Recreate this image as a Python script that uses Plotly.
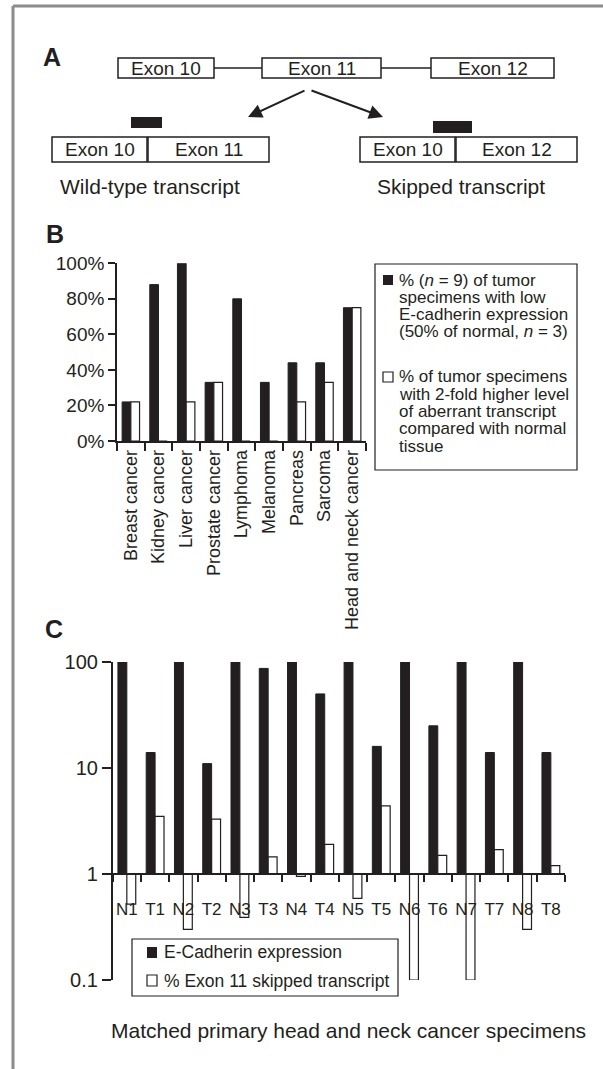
import plotly.graph_objects as go

W, H = 603, 1069
FONT = "Liberation Sans, Arial, Helvetica, sans-serif"
BLACK = "#231f20"


def px(x):
    return x / W


def py(y):
    return 1 - y / H


# ---------------- data ----------------
cancer_types = ["Breast cancer", "Kidney cancer", "Liver cancer", "Prostate cancer",
                "Lymphoma", "Melanoma", "Pancreas", "Sarcoma", "Head and neck cancer"]
low_ecad_pct = [22, 88, 100, 33, 80, 33, 44, 44, 75]
aberrant_pct = [22, 0, 22, 33, 0, 0, 22, 33, 75]
b_ticks = [0, 20, 40, 60, 80, 100]

specimens = ["N1", "T1", "N2", "T2", "N3", "T3", "N4", "T4",
             "N5", "T5", "N6", "T6", "N7", "T7", "N8", "T8"]
ecad_expr = [100, 14, 100, 11, 100, 87, 100, 50, 100, 16, 100, 25, 100, 14, 100, 14]
exon11_skipped = [0.52, 3.5, 0.30, 3.3, 0.39, 1.45, 0.95, 1.9,
                  0.59, 4.4, 0.10, 1.5, 0.10, 1.7, 0.30, 1.2]
c_ticks = [0.1, 1, 10, 100]
c_base = 1  # bars grow from the axis crossing at 1

# ---------------- layout geometry (pixels) ----------------
B_X = (117, 366)
B_Y = (263.3, 441)
C_X = (112.7, 565)
C_Y = (662, 980)

fig = go.Figure()

fig.add_trace(go.Bar(x=cancer_types, y=low_ecad_pct, xaxis="x", yaxis="y",
                     marker=dict(color=BLACK, line=dict(color=BLACK, width=1)),
                     showlegend=False))
fig.add_trace(go.Bar(x=cancer_types, y=aberrant_pct, xaxis="x", yaxis="y",
                     marker=dict(color="white", line=dict(color=BLACK, width=1.2)),
                     showlegend=False))

fig.add_trace(go.Bar(x=specimens, y=[v - c_base for v in ecad_expr], base=c_base,
                     xaxis="x2", yaxis="y2",
                     marker=dict(color=BLACK, line=dict(color=BLACK, width=1)),
                     showlegend=False))
fig.add_trace(go.Bar(x=specimens, y=[v - c_base for v in exon11_skipped], base=c_base,
                     xaxis="x2", yaxis="y2",
                     marker=dict(color="white", line=dict(color=BLACK, width=1.2)),
                     showlegend=False))

c_dom_y = [py(C_Y[1]), py(C_Y[0])]
c_xpos = c_dom_y[0] + (0 - (-1)) / 3 * (c_dom_y[1] - c_dom_y[0])

axis_common = dict(showline=True, linecolor=BLACK, linewidth=1.6, ticks="outside",
                   tickcolor=BLACK, tickwidth=1.6, showgrid=False, zeroline=False,
                   automargin=False)


def tf(size):
    return dict(family=FONT, size=size, color=BLACK)


fig.update_layout(
    template="none",
    width=W, height=H, margin=dict(l=0, r=0, t=0, b=0, pad=0, autoexpand=False),
    paper_bgcolor="white", plot_bgcolor="white", showlegend=False,
    barmode="group", bargap=0.37, bargroupgap=0,
    font=dict(family=FONT, color=BLACK),
    xaxis=dict(domain=[px(B_X[0]), px(B_X[1])], anchor="y", type="category",
               tickson="boundaries", ticklen=8, tickangle=-90, tickfont=tf(18),
               **axis_common),
    yaxis=dict(domain=[py(B_Y[1]), py(B_Y[0])], anchor="x", range=[0, 100],
               tickvals=b_ticks, ticktext=[f"{v}%" for v in b_ticks], ticklen=7,
               tickfont=tf(19), **axis_common),
    xaxis2=dict(domain=[px(C_X[0]), px(C_X[1])], anchor="free", position=c_xpos,
                type="category", tickson="boundaries", ticklen=7, ticklabelstandoff=20,
                tickangle=0, tickfont=tf(17), **axis_common),
    yaxis2=dict(domain=c_dom_y, anchor="x2", type="log", range=[-1, 2],
                tickvals=c_ticks, ticktext=["0.1", "1", "10", "100"], ticklen=9,
                tickfont=tf(20), **axis_common),
)

shapes = []
annotations = []


def rect(x0, y0, x1, y1, fill="white", lw=1.5, color=BLACK):
    shapes.append(dict(type="rect", xref="paper", yref="paper",
                       x0=px(x0), x1=px(x1), y0=py(y1), y1=py(y0),
                       fillcolor=fill, line=dict(color=color, width=lw)))


def line(x0, y0, x1, y1, lw=1.5, color=BLACK):
    shapes.append(dict(type="line", xref="paper", yref="paper",
                       x0=px(x0), x1=px(x1), y0=py(y0), y1=py(y1),
                       line=dict(color=color, width=lw)))


def text(x, y, s, size=19, anchor="center", bold=False):
    annotations.append(dict(xref="paper", yref="paper", x=px(x), y=py(y), text=s,
                            showarrow=False, xanchor=anchor, yanchor="middle",
                            font=dict(family=FONT, size=size, color=BLACK,
                                      weight="bold" if bold else "normal")))


# frame
line(13, 6, 13, H + 10, lw=3, color="#8c8c8c")
line(13, 6, W + 10, 6, lw=3, color="#8c8c8c")

# ---------------- panel A ----------------
text(52, 57, "A", size=25, bold=True)
line(214, 68, 262, 68)
line(381, 68, 431, 68)
for (x0, x1, lab) in [(118, 214, "Exon 10"), (262, 381, "Exon 11"), (431, 554, "Exon 12")]:
    rect(x0, 58, x1, 78)
    text((x0 + x1) / 2, 68.5, lab, size=19)

for (x0, x1, lab) in [(52, 147, "Exon 10"), (148, 269, "Exon 11"),
                      (360, 455, "Exon 10"), (456, 577, "Exon 12")]:
    rect(x0, 137, x1, 162)
    text((x0 + x1) / 2, 149.5, lab, size=19)

rect(131, 117, 162, 128, fill=BLACK, lw=0)
rect(433, 121, 472, 133, fill=BLACK, lw=0)

for (tx, ty, sx, sy) in [(248, 117, 306, 90), (383, 117, 310, 90)]:
    annotations.append(dict(xref="paper", yref="paper", x=px(tx), y=py(ty),
                            ax=sx - tx, ay=sy - ty, text="", showarrow=True,
                            arrowhead=2, arrowsize=1.4, arrowwidth=2, arrowcolor=BLACK))

text(150, 186, "Wild-type transcript", size=21)
text(461, 186, "Skipped transcript", size=21)

# ---------------- panel B ----------------
text(55, 234, "B", size=25, bold=True)
rect(375, 264, 577, 470, lw=1.2)
rect(383, 275, 393, 285, fill=BLACK, lw=0)
rect(383, 372, 393, 382, fill="white", lw=1.2)
b_leg1 = ["% (<i>n</i> = 9) of tumor", "specimens with low", "E-cadherin expression",
          "(50% of normal, <i>n</i> = 3)"]
b_leg2 = ["% of tumor specimens", "with 2-fold higher level", "of aberrant transcript",
          "compared with normal", "tissue"]
for i, s in enumerate(b_leg1):
    text(397, 280 + 17.3 * i, s, size=17, anchor="left")
for i, s in enumerate(b_leg2):
    text(397, 377 + 17.3 * i, s, size=17, anchor="left")

# ---------------- panel C ----------------
text(54, 629, "C", size=25, bold=True)
rect(132, 939, 398, 996, lw=1.2)
rect(147, 947, 157, 958, fill=BLACK, lw=0)
rect(147, 975, 157, 986, fill="white", lw=1.2)
text(162, 952, "E-Cadherin expression", size=17.5, anchor="left")
text(162, 980.5, "% Exon 11 skipped transcript", size=17.5, anchor="left")

text(348, 1030, "Matched primary head and neck cancer specimens", size=21)

fig.update_layout(shapes=shapes, annotations=annotations)
fig.write_html("out.html", config={"displayModeBar": False},
               post_script="document.body.style.margin='0';"
                           "document.body.style.overflow='hidden';")
